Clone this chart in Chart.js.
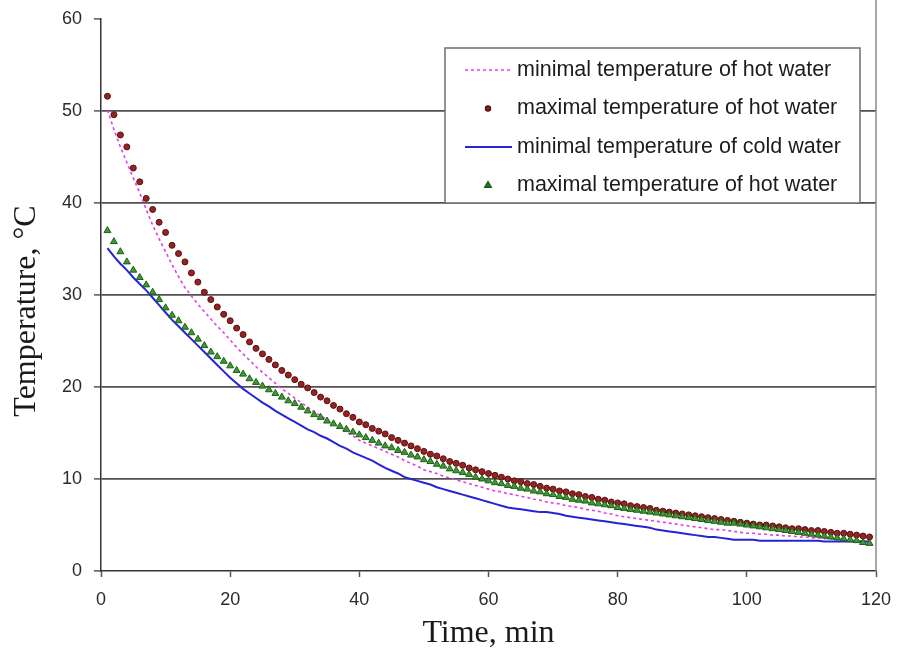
<!DOCTYPE html>
<html>
<head>
<meta charset="utf-8">
<script src="https://cdn.jsdelivr.net/npm/chart.js@4.4.1/dist/chart.umd.min.js"></script>
<style>
  html, body { margin: 0; padding: 0; background: #fff; }
  #wrap { width: 899px; height: 653px; }
</style>
</head>
<body>
<div id="wrap"><canvas id="chart" width="899" height="653"></canvas></div>
<script>
// time, min (one reading per minute)
const timeMin = [
  1, 2, 3, 4, 5, 6, 7, 8, 9, 10, 11, 12, 13, 14, 15, 16, 17, 18, 19, 20,
  21, 22, 23, 24, 25, 26, 27, 28, 29, 30, 31, 32, 33, 34, 35, 36, 37, 38, 39, 40,
  41, 42, 43, 44, 45, 46, 47, 48, 49, 50, 51, 52, 53, 54, 55, 56, 57, 58, 59, 60,
  61, 62, 63, 64, 65, 66, 67, 68, 69, 70, 71, 72, 73, 74, 75, 76, 77, 78, 79, 80,
  81, 82, 83, 84, 85, 86, 87, 88, 89, 90, 91, 92, 93, 94, 95, 96, 97, 98, 99, 100,
  101, 102, 103, 104, 105, 106, 107, 108, 109, 110, 111, 112, 113, 114, 115, 116, 117, 118, 119
];

// minimal temperature of hot water (dotted magenta)
const minHot = [
  50.1, 48.0, 46.1, 44.4, 42.7, 41.1, 39.3, 37.6, 36.1, 34.7, 33.3, 32.0, 30.8, 29.9, 29.0, 28.2, 27.4, 26.6, 25.9, 25.1,
  24.3, 23.6, 22.9, 22.2, 21.6, 21.0, 20.4, 19.8, 19.3, 18.8, 18.3, 17.8, 17.3, 16.9, 16.4, 16.0, 15.5, 15.1, 14.7, 14.2,
  13.9, 13.6, 13.3, 13.0, 12.7, 12.4, 12.0, 11.7, 11.4, 11.0, 10.8, 10.6, 10.3, 10.1, 9.9, 9.7, 9.5, 9.3, 9.1, 8.9,
  8.7, 8.6, 8.4, 8.3, 8.1, 8.0, 7.8, 7.7, 7.5, 7.4, 7.3, 7.1, 7.0, 6.9, 6.7, 6.6, 6.5, 6.3, 6.2, 6.0,
  5.9, 5.8, 5.7, 5.6, 5.5, 5.4, 5.3, 5.2, 5.1, 5.0, 4.9, 4.8, 4.7, 4.6, 4.5, 4.5, 4.4, 4.3, 4.2, 4.1,
  4.1, 4.0, 4.0, 3.9, 3.9, 3.8, 3.8, 3.7, 3.7, 3.6, 3.6, 3.5, 3.5, 3.4, 3.4, 3.3, 3.3, 3.2, 3.2
];

// maximal temperature of hot water (dark red dots)
const maxHot = [
  51.6, 49.6, 47.4, 46.1, 43.8, 42.3, 40.5, 39.3, 37.9, 36.8, 35.4, 34.5, 33.6, 32.4, 31.4, 30.3, 29.5, 28.7, 27.9, 27.2,
  26.4, 25.7, 24.9, 24.2, 23.6, 23.0, 22.4, 21.8, 21.3, 20.8, 20.3, 19.9, 19.4, 18.9, 18.5, 18.0, 17.6, 17.1, 16.7, 16.2,
  15.9, 15.5, 15.2, 14.9, 14.5, 14.2, 13.9, 13.6, 13.3, 13.0, 12.7, 12.5, 12.2, 11.9, 11.7, 11.5, 11.2, 11.0, 10.8, 10.6,
  10.4, 10.2, 10.0, 9.8, 9.7, 9.5, 9.4, 9.2, 9.0, 8.9, 8.7, 8.6, 8.4, 8.3, 8.1, 8.0, 7.8, 7.7, 7.5, 7.4,
  7.3, 7.1, 7.0, 6.9, 6.8, 6.6, 6.5, 6.4, 6.3, 6.2, 6.1, 6.0, 5.9, 5.8, 5.7, 5.6, 5.5, 5.4, 5.3, 5.2,
  5.1, 5.0, 5.0, 4.9, 4.8, 4.7, 4.6, 4.6, 4.5, 4.4, 4.4, 4.3, 4.2, 4.1, 4.1, 4.0, 3.9, 3.8, 3.7
];

// minimal temperature of cold water (blue line)
const minCold = [
  35.1, 34.2, 33.4, 32.7, 31.9, 31.2, 30.5, 29.7, 28.9, 28.1, 27.3, 26.6, 25.9, 25.2, 24.5, 23.8, 23.1, 22.4, 21.7, 21.0,
  20.4, 19.8, 19.3, 18.8, 18.3, 17.9, 17.4, 17.0, 16.6, 16.2, 15.8, 15.4, 15.1, 14.7, 14.4, 14.0, 13.6, 13.3, 12.9, 12.6,
  12.3, 12.0, 11.6, 11.2, 10.9, 10.6, 10.2, 10.0, 9.8, 9.6, 9.4, 9.1, 8.9, 8.7, 8.5, 8.3, 8.1, 7.9, 7.7, 7.5,
  7.3, 7.1, 6.9, 6.8, 6.7, 6.6, 6.5, 6.4, 6.4, 6.3, 6.2, 6.0, 5.9, 5.8, 5.7, 5.6, 5.5, 5.4, 5.3, 5.2,
  5.1, 5.0, 4.9, 4.8, 4.7, 4.5, 4.4, 4.3, 4.2, 4.1, 4.0, 3.9, 3.8, 3.7, 3.7, 3.6, 3.5, 3.4, 3.4, 3.4,
  3.4, 3.3, 3.3, 3.3, 3.3, 3.3, 3.3, 3.3, 3.3, 3.3, 3.3, 3.2, 3.2, 3.2, 3.2, 3.2, 3.2, 3.2, 3.2
];

// second "maximal temperature of hot water" series (green triangles)
const maxHot2 = [
  37.0, 35.8, 34.7, 33.6, 32.7, 31.9, 31.1, 30.3, 29.5, 28.6, 27.8, 27.2, 26.5, 25.9, 25.2, 24.5, 23.8, 23.3, 22.8, 22.3,
  21.8, 21.4, 20.9, 20.5, 20.1, 19.7, 19.3, 18.9, 18.5, 18.2, 17.8, 17.4, 17.0, 16.7, 16.3, 16.0, 15.7, 15.4, 15.1, 14.8,
  14.5, 14.2, 13.9, 13.6, 13.4, 13.1, 12.9, 12.6, 12.4, 12.1, 11.9, 11.6, 11.4, 11.1, 10.9, 10.7, 10.5, 10.2, 10.0, 9.8,
  9.6, 9.5, 9.3, 9.2, 9.0, 8.9, 8.7, 8.6, 8.4, 8.3, 8.1, 8.0, 7.8, 7.7, 7.6, 7.4, 7.3, 7.2, 7.1, 6.9,
  6.8, 6.7, 6.6, 6.5, 6.4, 6.3, 6.2, 6.1, 6.0, 5.9, 5.8, 5.7, 5.6, 5.5, 5.4, 5.3, 5.2, 5.2, 5.1, 5.0,
  4.9, 4.8, 4.7, 4.6, 4.5, 4.4, 4.3, 4.2, 4.1, 4.0, 3.9, 3.8, 3.7, 3.6, 3.5, 3.4, 3.3, 3.1, 3.0
];

const seriesNames = [
  'minimal temperature of hot water',
  'maximal temperature of hot water',
  'minimal temperature of cold water',
  'maximal temperature of hot water'
];

const toXY = (ys) => ys.map((y, i) => ({ x: timeMin[i], y: y }));

// legend drawn in a box on the plot, like the spreadsheet original
const boxLegend = {
  id: 'boxLegend',
  afterDraw(c) {
    const ctx = c.ctx;
    const left = 445, top = 48, w = 415, h = 155;
    ctx.save();
    ctx.fillStyle = '#fff';
    ctx.fillRect(left, top, w, h);
    ctx.strokeStyle = '#6e6e6e';
    ctx.lineWidth = 1.5;
    ctx.strokeRect(left, top, w, h);
    ctx.font = '21.5px "Liberation Sans", Arial, sans-serif';
    ctx.textBaseline = 'middle';
    ctx.textAlign = 'left';
    c.data.datasets.forEach((ds, i) => {
      const y = 70 + i * 38.5;
      if (ds.showLine) {
        ctx.beginPath();
        ctx.setLineDash(ds.borderDash || []);
        ctx.strokeStyle = ds.borderColor;
        ctx.lineWidth = ds.borderWidth;
        ctx.moveTo(465, y);
        ctx.lineTo(512, y);
        ctx.stroke();
        ctx.setLineDash([]);
      } else {
        ctx.fillStyle = ds.pointBackgroundColor;
        ctx.strokeStyle = ds.pointBorderColor;
        Chart.helpers.drawPoint(ctx, {
          pointStyle: ds.pointStyle, radius: ds.pointRadius * 0.8, rotation: 0, borderWidth: 1
        }, 488, y);
      }
      ctx.fillStyle = '#1c1c1c';
      ctx.fillText(ds.label, 517, y);
    });
    // right edge of the plot area
    ctx.strokeStyle = '#8a8a8a';
    ctx.lineWidth = 1.5;
    ctx.beginPath();
    ctx.moveTo(c.chartArea.right, 0);
    ctx.lineTo(c.chartArea.right, c.chartArea.bottom);
    ctx.stroke();
    // y axis title, sits a little below the middle of the plot
    ctx.translate(27, 311);
    ctx.rotate(-Math.PI / 2);
    ctx.textAlign = 'center';
    ctx.fillStyle = '#1a1a1a';
    ctx.font = '32px "Liberation Serif", "Times New Roman", serif';
    ctx.fillText('Temperature, °C', 0, 0);
    ctx.restore();
  }
};

new Chart(document.getElementById('chart'), {
  type: 'scatter',
  data: {
    datasets: [
      {
        label: seriesNames[0],
        data: toXY(minHot),
        showLine: true,
        borderColor: '#e23fe2',
        borderWidth: 1.6,
        borderDash: [3, 3],
        pointRadius: 0,
        order: 4
      },
      {
        label: seriesNames[1],
        data: toXY(maxHot),
        showLine: false,
        pointStyle: 'circle',
        pointRadius: 3,
        pointBackgroundColor: '#962222',
        pointBorderColor: '#5a0f0f',
        pointBorderWidth: 1,
        order: 2
      },
      {
        label: seriesNames[2],
        data: toXY(minCold),
        showLine: true,
        borderColor: '#2424d6',
        borderWidth: 2,
        pointRadius: 0,
        order: 3
      },
      {
        label: seriesNames[3],
        data: toXY(maxHot2),
        showLine: false,
        pointStyle: 'triangle',
        pointRadius: 4,
        pointBackgroundColor: '#3c9a2e',
        pointBorderColor: '#1f5e1a',
        pointBorderWidth: 1,
        order: 1
      }
    ]
  },
  options: {
    responsive: false,
    animation: false,
    layout: { padding: { top: 19, right: 23, left: 0, bottom: 0 } },
    scales: {
      x: {
        type: 'linear',
        min: 0,
        max: 120,
        afterFit: (s) => { s.height = 82; s.paddingRight = 0; s.paddingLeft = 0; },
        ticks: {
          stepSize: 20,
          padding: 12,
          color: '#2b2b2b',
          font: { family: '"Liberation Sans", Arial, sans-serif', size: 18 }
        },
        grid: { drawOnChartArea: false, tickLength: 6, tickColor: '#555', tickWidth: 1.5 },
        border: { color: '#333', width: 1.5 },
        title: {
          display: true,
          text: 'Time, min',
          color: '#1a1a1a',
          padding: { top: 0, bottom: 0 },
          font: { family: '"Liberation Serif", "Times New Roman", serif', size: 32 }
        }
      },
      y: {
        min: 0,
        max: 60,
        afterFit: (s) => { s.width = 101; s.paddingTop = 0; s.paddingBottom = 0; },
        ticks: {
          stepSize: 10,
          padding: 12,
          color: '#2b2b2b',
          font: { family: '"Liberation Sans", Arial, sans-serif', size: 18 }
        },
        grid: {
          color: (ctx) => (ctx.tick && (ctx.tick.value === 60 || ctx.tick.value === 0)) ? 'rgba(0,0,0,0)' : '#505050',
          lineWidth: 1.8,
          tickLength: 7,
          tickColor: '#555',
          tickWidth: 1.5
        },
        border: { color: '#333', width: 1.5 },
        title: { display: false }
      }
    },
    plugins: {
      legend: { display: false },
      tooltip: { enabled: false }
    }
  },
  plugins: [boxLegend]
});
</script>
</body>
</html>
